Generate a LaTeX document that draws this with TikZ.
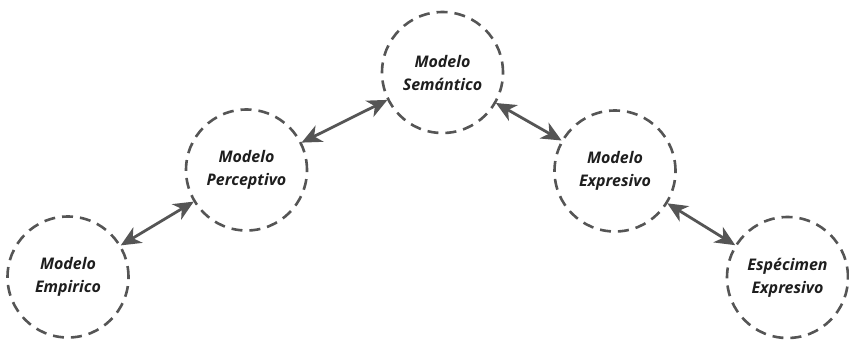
\documentclass[tikz,border=0pt]{standalone}
\usepackage{fontspec}
\setmainfont{Open Sans}
\usetikzlibrary{arrows.meta}
\definecolor{lc}{HTML}{555555}
\definecolor{tc}{HTML}{1E1E1E}
\tikzset{
  mcirc/.style={circle, draw=lc, line width=2.6pt, dash pattern=on 11pt off 7pt,
    minimum size=121pt, inner sep=0pt, outer sep=0pt, align=center,
    font=\fontsize{16}{23}\selectfont\bfseries\itshape, text=tc},
  link/.style={draw=lc, line width=2.8pt,
    {Stealth[length=20pt,width=18pt,inset=6pt]}-{Stealth[length=20pt,width=18pt,inset=6pt]},
    shorten <=1pt, shorten >=1pt}
}
\begin{document}
\begin{tikzpicture}[x=1pt,y=-1pt]
\useasboundingbox (0,0) rectangle (849,340);
\node[mcirc] (emp) at (68,277) {Modelo\\Empirico};
\node[mcirc] (per) at (246.5,170) {Modelo\\Perceptivo};
\node[mcirc] (sem) at (442.5,72.5) {Modelo\\Semántico};
\node[mcirc] (exp) at (615,171) {Modelo\\Expresivo};
\node[mcirc] (esp) at (787.5,277.5) {Espécimen\\Expresivo};
\draw[link] (emp) -- (per);
\draw[link] (per) -- (sem);
\draw[link] (sem) -- (exp);
\draw[link] (exp) -- (esp);
\end{tikzpicture}
\end{document}
